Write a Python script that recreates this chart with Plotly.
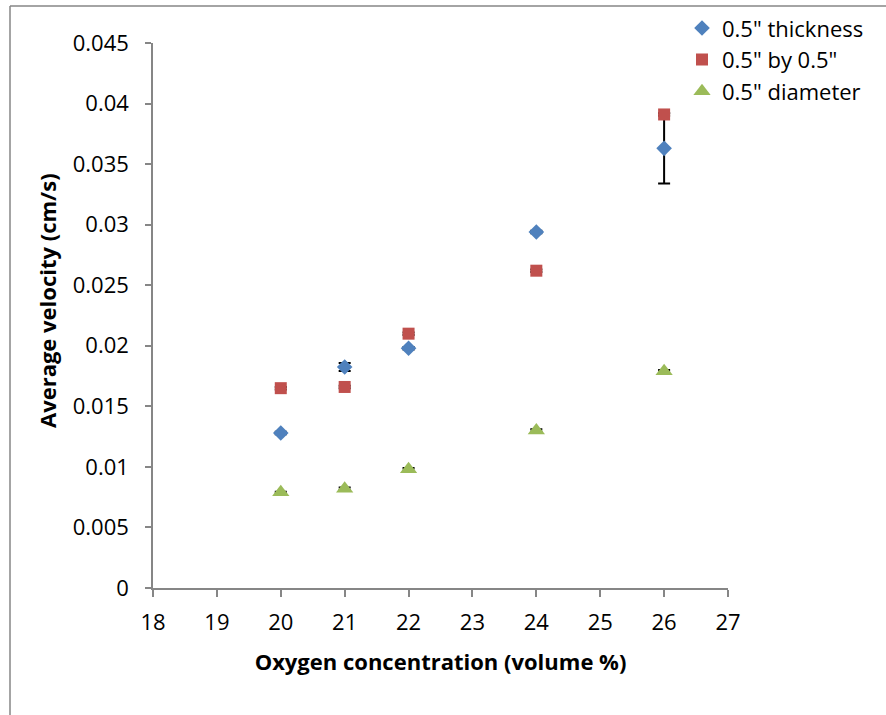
import plotly.graph_objects as go

# Oxygen concentration (volume %)
oxygen = [20, 21, 22, 24, 26]

# Average flame spread velocity (cm/s) per sample geometry
thickness = [0.0128, 0.01825, 0.0198, 0.0294, 0.0363]
thickness_err = [0.0001, 0.00033, 0.0001, 0.0001, 0.0029]

by_half = [0.0165, 0.0166, 0.0210, 0.0262, 0.0391]
by_half_err = [0.0001, 0.0001, 0.0001, 0.0001, 0.0001]

diameter = [0.0079, 0.0082, 0.0098, 0.0130, 0.0179]
diameter_err = [0.00005, 0.0001, 0.0001, 0.0001, 0.0001]

series_names = ['0.5" thickness', '0.5" by 0.5"', '0.5" diameter']

FONT = "'Open Sans', Lato, sans-serif"
AXIS_GRAY = "#868686"

fig = go.Figure()


def err(vals):
    return dict(type="data", array=vals, visible=True, color="black",
                thickness=2, width=6)


fig.add_trace(go.Scatter(
    x=oxygen, y=thickness, mode="markers", name=series_names[0],
    marker=dict(symbol="diamond", size=12, color="#4F81BD"),
    error_y=err(thickness_err),
))
fig.add_trace(go.Scatter(
    x=oxygen, y=by_half, mode="markers", name=series_names[1],
    marker=dict(symbol="square", size=12, color="#C0504D"),
    error_y=err(by_half_err),
))
fig.add_trace(go.Scatter(
    x=oxygen, y=diameter, mode="markers", name=series_names[2],
    marker=dict(symbol="triangle-up", size=15, color="#9BBB59"),
    error_y=err(diameter_err),
))

# chart-area border (left and top edges)
fig.add_shape(type="line", xref="paper", yref="paper",
              x0=-0.2487, x1=-0.2487, y0=-0.3, y1=1.0679,
              line=dict(color=AXIS_GRAY, width=1.5))
fig.add_shape(type="line", xref="paper", yref="paper",
              x0=-0.2487, x1=1.35, y0=1.0679, y1=1.0679,
              line=dict(color=AXIS_GRAY, width=1.5))

# vertical axis title
fig.add_annotation(
    text="<b>Average velocity (cm/s)</b>", textangle=-90,
    xref="paper", yref="paper", x=-0.1843, y=0.5266,
    xanchor="center", yanchor="middle", showarrow=False,
    font=dict(size=22),
)

fig.update_layout(
    width=886, height=715,
    margin=dict(l=153, r=158, t=43, b=127, autoexpand=False),
    paper_bgcolor="white", plot_bgcolor="white",
    font=dict(family=FONT, size=22, color="black"),
    showlegend=True,
    legend=dict(x=0.92, y=0.99, xanchor="left", yanchor="top",
                yref="container",
                bgcolor="rgba(0,0,0,0)", font=dict(size=22)),
    xaxis=dict(
        range=[18, 27], tick0=18, dtick=1, showgrid=False, zeroline=False,
        showline=True, linecolor=AXIS_GRAY, linewidth=1.5, automargin=False,
        ticks="outside", ticklen=7, tickcolor=AXIS_GRAY, tickwidth=1.5,
        ticklabelstandoff=7,
        title=dict(text="<b>Oxygen concentration (volume %)</b>",
                   font=dict(size=22), standoff=19),
    ),
    yaxis=dict(
        range=[0, 0.045], tick0=0, dtick=0.005, showgrid=False, zeroline=False,
        showline=True, linecolor=AXIS_GRAY, linewidth=1.5, automargin=False,
        ticks="outside", ticklen=6, tickcolor=AXIS_GRAY, tickwidth=1.5,
        ticklabelstandoff=12, tickformat="~g",
    ),
)

fig.write_html("out.html")
